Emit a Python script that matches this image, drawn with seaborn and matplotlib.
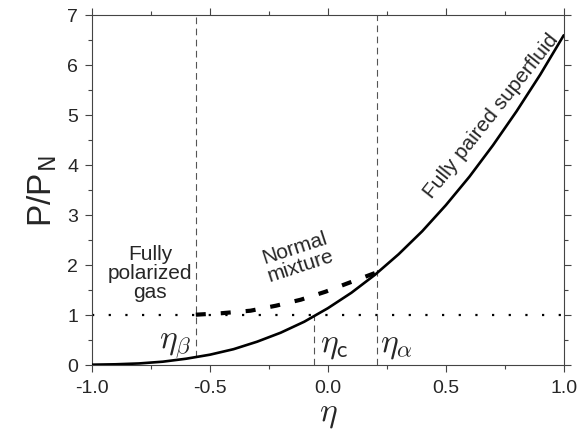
import numpy as np
import pandas as pd
import matplotlib
matplotlib.use("Agg")
import matplotlib.pyplot as plt
import seaborn as sns
from matplotlib.ticker import MultipleLocator

# values
eta_sf = [-1.0, -0.9, -0.8, -0.7, -0.6, -0.5, -0.4, -0.3, -0.2, -0.1, 0.0,
          0.1, 0.2, 0.3, 0.4, 0.5, 0.6, 0.7, 0.8, 0.9, 1.0]
p_sf = [0.0, 0.008, 0.025, 0.06, 0.12, 0.2, 0.31, 0.46, 0.64, 0.86, 1.13,
        1.44, 1.80, 2.21, 2.67, 3.19, 3.76, 4.39, 5.07, 5.80, 6.59]

eta_nm = [-0.56, -0.45, -0.328, -0.22, -0.115, -0.01, 0.096, 0.209]
p_nm = [1.0, 1.03, 1.08, 1.18, 1.3, 1.46, 1.65, 1.85]

eta_beta, eta_c, eta_alpha = -0.56, -0.06, 0.209
p_beta = 0.15

df_sf = pd.DataFrame({"eta": eta_sf, "P": p_sf})
df_nm = pd.DataFrame({"eta": eta_nm, "P": p_nm})

sns.set_style("ticks")
plt.rcParams["font.family"] = ["Liberation Sans", "DejaVu Sans"]
plt.rcParams["mathtext.fontset"] = "cm"

fig = plt.figure(figsize=(5.86, 4.39), dpi=100)
ax = fig.add_axes([0.157, 0.167, 0.805, 0.797])

# reference lines
ax.axhline(1.0, color="black", lw=1.6, ls=(0, (1, 6.5)), zorder=1)
ax.vlines(eta_beta, p_beta, 7, color="#555555", lw=0.8, ls=(0, (6, 4)), zorder=1)
ax.vlines(eta_c, 0, 1, color="#555555", lw=0.8, ls=(0, (6, 4)), zorder=1)
ax.vlines(eta_alpha, 0, 7, color="#555555", lw=0.8, ls=(0, (6, 4)), zorder=1)

sns.lineplot(data=df_sf, x="eta", y="P", color="black", lw=1.9, ax=ax, zorder=3)
sns.lineplot(data=df_nm, x="eta", y="P", color="black", lw=3.0, ax=ax, zorder=3)
ax.lines[-1].set_linestyle((0, (2.4, 3.6)))

ax.set_xlim(-1.0, 1.0)
ax.set_ylim(0, 7)
ax.xaxis.set_major_locator(MultipleLocator(0.5))
ax.xaxis.set_minor_locator(MultipleLocator(0.25))
ax.yaxis.set_major_locator(MultipleLocator(1))
ax.yaxis.set_minor_locator(MultipleLocator(0.5))
ax.xaxis.set_major_formatter(matplotlib.ticker.FormatStrFormatter("%.1f"))
ax.tick_params(which="both", direction="out", top=True, right=True,
               color="#444444", labelsize=14, pad=5)
ax.tick_params(which="major", length=5, width=0.8)
ax.tick_params(which="minor", length=3, width=0.8)
for s in ax.spines.values():
    s.set_color("#444444")
    s.set_linewidth(0.8)

ax.set_xlabel(r"$\eta$", fontsize=24, labelpad=2)
ax.set_ylabel(r"P/P$_\mathsf{N}$", fontsize=24, labelpad=6)

# annotations
ax.text(-0.754, 1.85, "Fully\npolarized\ngas", ha="center", va="center",
        fontsize=15, linespacing=1.0)
ax.text(-0.13, 2.17, "Normal\nmixture", ha="center", va="center",
        fontsize=15, rotation=18, linespacing=1.0)
ax.text(0.69, 5.0, "Fully paired superfluid", ha="center", va="center",
        fontsize=15, rotation=51.5)
ax.text(-0.648, 0.40, r"$\eta_\beta$", ha="center", va="center", fontsize=24)
ax.text(0.025, 0.40, r"$\eta_\mathsf{c}$", ha="center", va="center", fontsize=24)
ax.text(0.29, 0.40, r"$\eta_\alpha$", ha="center", va="center", fontsize=24)

plt.savefig("out.png", dpi=100)
